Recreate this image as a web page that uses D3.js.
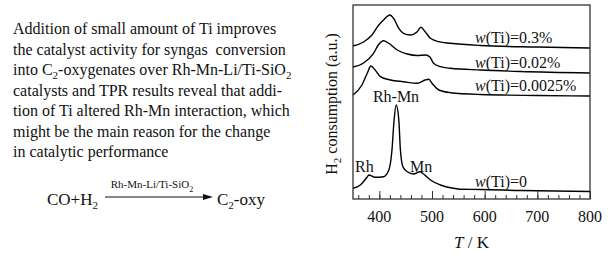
<!DOCTYPE html>
<html>
<head>
<meta charset="utf-8">
<script src="https://cdn.jsdelivr.net/npm/d3@7"></script>
<style>
  body { margin: 0; background: #fff; }
  svg text { font-family: "Liberation Serif", "DejaVu Serif", serif; white-space: pre; }
</style>
</head>
<body>
<svg id="plotSvg" width="612" height="254"></svg>
<script>
// abstract text, "_2" marks a subscript
var abstractLines = [
    "Addition of small amount of Ti improves",
    "the catalyst activity for syngas  conversion",
    "into C_2-oxygenates over Rh-Mn-Li/Ti-SiO_2",
    "catalysts and TPR results reveal that addi-",
    "tion of Ti altered Rh-Mn interaction, which",
    "might be the main reason for the change",
    "in catalytic performance"
];

// TPR curves (T in K, H2 consumption in a.u., curves stacked)
var tempTi0 = [350, 364, 377, 380, 392, 408, 418, 424, 428, 432, 437, 440, 445, 453, 465, 477, 484, 497, 516, 541, 554, 592, 668, 800];
var valTi0  = [10.7, 14, 22, 24, 21.7, 22.3, 29, 49, 79, 94, 79, 49, 32, 27.3, 25, 27.3, 25, 19, 14, 10.7, 9.7, 9.5, 8.5, 7.5];

var tempTi0025 = [350, 367, 377, 384, 392, 402, 421, 446, 472, 487, 494, 500, 513, 535, 592, 700, 800];
var valTi0025  = [104, 114, 125.7, 133, 129, 122.3, 119, 117.3, 115.7, 119, 119.7, 115.7, 109, 106.3, 104.5, 103.5, 103];

var tempTi002 = [350, 370, 389, 398, 408, 417, 434, 453, 472, 488, 496, 503, 516, 535, 592, 668, 800];
var valTi002  = [132, 136, 145.7, 154, 158.3, 156, 149, 145, 143.5, 144, 142, 135.7, 132.3, 130.7, 129, 127.5, 126];

var tempTi03 = [350, 370, 386, 399, 408, 420, 427, 437, 446, 459, 472, 479, 487, 497, 513, 535, 592, 700, 800];
var valTi03  = [153, 157, 164, 174, 179, 184, 180.7, 170.7, 165.7, 164, 167.3, 171.7, 167.3, 160.7, 157.3, 155.7, 153.5, 152, 151];

var seriesLabels = ["=0", "=0.0025%", "=0.02%", "=0.3%"];
var xTicks = [400, 500, 600, 700, 800];
var peakLabels = ["Rh", "Rh-Mn", "Mn"];

var svg = d3.select("#plotSvg");

// writes "abc_2def" with a subscript 2
function richText(sel, str, subSize) {
    var parts = str.split(/_(\d)/);
    var shift = 0;
    parts.forEach(function (p, i) {
        if (p === "") return;
        var ts = sel.append("tspan").text(p);
        if (i % 2 === 1) {
            ts.attr("dy", 4).attr("font-size", subSize);
            shift = -4;
        } else if (shift) {
            ts.attr("dy", shift);
            shift = 0;
        }
    });
}

// ---- left panel text ----
var abs = svg.append("g").attr("font-size", 16).attr("fill", "#111");
abstractLines.forEach(function (line, i) {
    var t = abs.append("text").attr("x", 13).attr("y", 34 + i * 20.5);
    richText(t, line, 11);
});

// reaction scheme
var eq = svg.append("g").attr("fill", "#111");
richText(eq.append("text").attr("x", 47).attr("y", 205).attr("font-size", 17), "CO+H_2", 11);
richText(eq.append("text").attr("x", 217).attr("y", 205).attr("font-size", 17), "C_2-oxy", 11);
richText(eq.append("text").attr("x", 152).attr("y", 188).attr("font-size", 11).attr("text-anchor", "middle"), "Rh-Mn-Li/Ti-SiO_2", 8);
eq.append("line").attr("x1", 105).attr("x2", 206).attr("y1", 197).attr("y2", 197)
    .attr("stroke", "#111").attr("stroke-width", 1.2);
eq.append("path").attr("d", "M203,194 L213,197 L203,200 Z").attr("fill", "#111");

// ---- TPR plot ----
var margin = { left: 353, right: 590, top: 5, bottom: 199 };
var x = d3.scaleLinear().domain([350, 800]).range([margin.left, margin.right]);
var y = d3.scaleLinear().domain([0, 194]).range([margin.bottom, margin.top]);

var g = svg.append("g");

var line = d3.line()
    .x(function (d) { return x(d[0]); })
    .y(function (d) { return y(d[1]); })
    .curve(d3.curveMonotoneX);

var series = [
    d3.zip(tempTi0, valTi0),
    d3.zip(tempTi0025, valTi0025),
    d3.zip(tempTi002, valTi002),
    d3.zip(tempTi03, valTi03)
];

g.selectAll("path.tpr")
    .data(series)
    .enter().append("path")
    .attr("class", "tpr")
    .attr("d", line)
    .attr("fill", "none")
    .attr("stroke", "#000")
    .attr("stroke-width", 1.4);

// frame
g.append("rect")
    .attr("x", margin.left).attr("y", margin.top)
    .attr("width", margin.right - margin.left)
    .attr("height", margin.bottom - margin.top)
    .attr("fill", "none").attr("stroke", "#333").attr("stroke-width", 1.3);

// inward ticks: minor every 20 K, major every 100 K
var xAxis = d3.axisTop(x)
    .tickValues(d3.range(360, 800, 20))
    .tickSize(4).tickFormat("");
g.append("g").attr("transform", "translate(0," + margin.bottom + ")").call(xAxis)
    .call(function (a) { a.select(".domain").remove(); a.selectAll("line").attr("stroke", "#333"); });

var xAxisMajor = d3.axisTop(x).tickValues(xTicks).tickSize(8).tickFormat("");
g.append("g").attr("transform", "translate(0," + margin.bottom + ")").call(xAxisMajor)
    .call(function (a) { a.select(".domain").remove(); a.selectAll("line").attr("stroke", "#333"); });

g.append("g").attr("font-size", 16).attr("fill", "#111")
    .attr("text-anchor", "middle")
    .selectAll("text").data(xTicks).enter().append("text")
    .attr("x", function (d) { return x(d); })
    .attr("y", 221.5)
    .text(function (d) { return d; });

// axis titles
var xt = g.append("text").attr("x", (margin.left + margin.right) / 2).attr("y", 248)
    .attr("text-anchor", "middle").attr("font-size", 17).attr("fill", "#111");
xt.append("tspan").attr("font-style", "italic").text("T");
xt.append("tspan").text(" / K");

var yt = g.append("text")
    .attr("transform", "translate(337," + 104 + ") rotate(-90)")
    .attr("text-anchor", "middle").attr("font-size", 16).attr("fill", "#111");
richText(yt, "H_2 consumption (a.u.)", 11);

// series labels
var labelPos = [[475, 187], [475, 91], [475, 68], [475, 43]];
var lab = g.append("g").attr("font-size", 16).attr("fill", "#111");
seriesLabels.forEach(function (s, i) {
    var t = lab.append("text").attr("x", labelPos[i][0]).attr("y", labelPos[i][1]);
    t.append("tspan").attr("font-style", "italic").text("w");
    t.append("tspan").text("(Ti)" + s);
});

// peak labels
var peakPos = [[355, 172, "start"], [396, 102, "middle"], [410, 172, "start"]];
peakLabels.forEach(function (p, i) {
    lab.append("text").attr("x", peakPos[i][0]).attr("y", peakPos[i][1])
        .attr("text-anchor", peakPos[i][2]).text(p);
});
</script>
</body>
</html>
